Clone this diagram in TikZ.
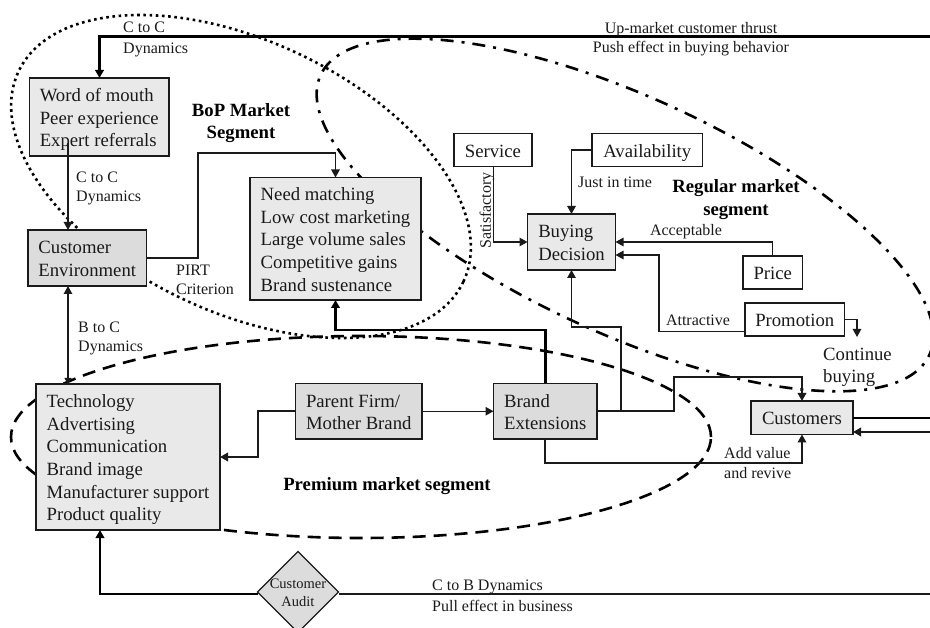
\documentclass[tikz,border=0pt]{standalone}
\usepackage{fontspec}
\setmainfont{Liberation Serif}
\usetikzlibrary{arrows.meta,shapes.geometric,backgrounds}
\definecolor{boxlight}{HTML}{E9E9E9}
\definecolor{boxdark}{HTML}{DCDCDC}
\definecolor{ink}{HTML}{1A1A1A}
\newcommand\bt[1]{\raisebox{-2.7pt}[\height][\depth]{\begin{tabular}{@{}l@{}}#1\end{tabular}}}
\tikzset{
  bx/.style={draw=ink,line width=1.2pt,outer sep=0pt,inner sep=0pt,text=ink,font=\fontsize{18.7}{22.6}\selectfont},
  lightbox/.style={bx,fill=boxlight},
  darkbox/.style={bx,fill=boxdark},
  whitebox/.style={bx,fill=white},
  lab/.style={inner sep=0pt,align=left,anchor=west,yshift=-1.5pt,text=ink,font=\fontsize{16}{19}\selectfont},
  clab/.style={inner sep=0pt,align=center,yshift=-1.5pt,text=ink,font=\fontsize{16}{19}\selectfont},
  seg/.style={inner sep=0pt,align=center,yshift=-1.5pt,text=black,font=\fontsize{18.7}{22.6}\selectfont\bfseries},
  thinln/.style={draw=ink,line width=1.3pt},
  medln/.style={draw=ink,line width=1.8pt},
  thickln/.style={draw=black,line width=2.8pt},
  tip/.style={-{Triangle[length=8pt,width=8.5pt]}},
  region/.style={draw=black,line width=2.6pt},
}
\begin{document}
\begin{tikzpicture}[x=1pt,y=-1pt]
\clip (0,0) rectangle (930,628);

% boxes
\node[lightbox,minimum width=139.5pt,minimum height=78pt] (word) at (99.25,117) {\bt{Word of mouth\\Peer experience\\Expert referrals}};
\node[darkbox,minimum width=118.5pt,minimum height=56pt] (cenv) at (87.25,258) {\bt{Customer\\Environment}};
\node[lightbox,minimum width=171pt,minimum height=122.5pt] (need) at (335.5,238.75) {\bt{Need matching\\Low cost marketing\\Large volume sales\\Competitive gains\\Brand sustenance}};
\node[lightbox,minimum width=184pt,minimum height=146pt] (tech) at (128,457) {\bt{Technology\\Advertising\\Communication\\Brand image\\Manufacturer support\\Product quality}};
\node[darkbox,minimum width=126.5pt,minimum height=55.5pt] (parent) at (358.75,411.25) {\bt{Parent Firm/\\Mother Brand}};
\node[darkbox,minimum width=103.5pt,minimum height=55.5pt] (brand) at (545.25,411.25) {\bt{Brand\\Extensions}};
\node[lightbox,minimum width=102pt,minimum height=33.5pt] (cust) at (802,417.75) {\bt{Customers}};
\node[whitebox,minimum width=78pt,minimum height=33pt] (service) at (493,150) {\bt{Service}};
\node[whitebox,minimum width=110.5pt,minimum height=33pt] (avail) at (647.25,150) {\bt{Availability}};
\node[lightbox,minimum width=88pt,minimum height=56pt] (buy) at (571.5,242) {\bt{Buying\\Decision}};
\node[whitebox,minimum width=59.5pt,minimum height=33pt] (price) at (772.75,272.5) {\bt{Price}};
\node[whitebox,minimum width=99.5pt,minimum height=33pt] (promo) at (794.75,319.5) {\bt{Promotion}};
\node[diamond,draw=ink,line width=1.2pt,fill=boxdark,aspect=1,inner sep=0pt,outer sep=0pt,minimum width=81pt,minimum height=81pt] (audit) at (298,592) {};
\node[inner sep=0pt,align=center,yshift=-1pt,text=ink,font=\fontsize{14.5}{18}\selectfont] (auditlab) at (298,592) {Customer\\Audit};

% free ends and bends
\coordinate (topR) at (930,36.5);
\coordinate (topL) at (99.5,36.5);
\coordinate (x68) at (68,0);
\coordinate (botR) at (930,594);
\coordinate (botL) at (100,594);
\coordinate (cR1) at (930,418);
\coordinate (cR2) at (930,432);
\coordinate (cont) at (857,337);

% regions
\begin{scope}[on background layer]
\draw[region,dash pattern=on 2.6pt off 3.6pt,shift={(241,176.5)},rotate=-25.3] (0,0) ellipse [x radius=246pt,y radius=135.6pt];
\draw[region,dash pattern=on 13pt off 8pt on 3pt off 8pt,shift={(625,215)},rotate=-24.7] (0,0) ellipse [x radius=335pt,y radius=118pt];
\draw[region,dash pattern=on 13pt off 8pt,shift={(361,437)}] (0,0) ellipse [x radius=350pt,y radius=101pt];
\end{scope}

% connectors
\draw[thickln,tip] (topR) -- (topL) -- (topL |- word.north);
\draw[thinln,tip] ([yshift=13pt]word.south -| x68) -- (x68 |- cenv.north);
\draw[thinln,tip] (cenv.east) -- (198,258) -- (198,153) -- (need.north |- 0,153) -- (need.north);
\draw[thinln,{Triangle[length=8pt,width=8.5pt]}-{Triangle[length=6pt,width=7pt]}] (x68 |- cenv.south) -- (x68 |- tech.north);
\draw[medln,tip] (parent.west) -- (258,411.25) -- (258,457) -- (tech.east);
\draw[thinln,tip] (parent.east) -- (brand.west);
\draw[thickln,tip] (brand.north) -- (brand.north |- 0,330) -- (need.south |- 0,330) -- (need.south);
\draw[thinln,tip] (brand.east) -- (621,411.25) -- (621,327) -- (buy.south |- 0,327) -- (buy.south);
\draw[medln,tip] (brand.east) -- (674,411.25) -- (674,377) -- (cust.north |- 0,377) -- (cust.north);
\draw[medln,tip] (brand.south) -- (brand.south |- 0,463) -- (cust.south |- 0,463) -- (cust.south);
\draw[thickln] (cR1) -- (cR1 -| cust.east);
\draw[medln,tip] (cR2) -- (cR2 -| cust.east);
\draw[thickln,tip] (audit.west |- botL) -- (botL) -- (botL |- tech.south);
\draw[medln] (botR) -- (audit.east |- botR);
\draw[thinln,tip] (service.south -| 493.7,0) -- (493.7,242) -- (buy.west);
\draw[thinln,tip] (avail.west) -- (buy.north |- avail.west) -- (buy.north);
\draw[thinln,tip] (price.north) -- (price.north |- buy.east) -- (buy.east);
\draw[thinln,tip] (promo.west |- 0,331.7) -- (659,331.7) -- (659,255) -- (buy.east |- 0,255);
\draw[thinln,tip] (promo.east) -- (cont |- promo.east) -- (cont);

% labels
\node[lab] (l1) at (123,26) {C to C};
\node[lab] (l2) at (123,48) {Dynamics};
\node[lab] (l3) at (76,186.5) {C to C\\Dynamics};
\node[seg] (l4) at (241,121.5) {BoP Market\\Segment};
\node[lab] (l5) at (176,278.5) {PIRT\\Criterion};
\node[lab] (l6) at (78,336.5) {B to C\\Dynamics};
\node[clab] (l7) at (691,37.5) {Up-market customer thrust\\Push effect in buying behavior};
\node[lab] (l8) at (578,181) {Just in time};
\node[clab,rotate=90] (l9) at (487,209) {Satisfactory};
\node[seg] (l10) at (736,198) {Regular market\\segment};
\node[clab] (l11) at (686,230) {Acceptable};
\node[clab] (l12) at (698,319) {Attractive};
\node[lab,font=\fontsize{18.7}{22.6}\selectfont] (l13) at (823,366) {Continue\\buying};
\node[lab] (l14) at (724,452) {Add value};
\node[lab] (l15) at (724,472) {and revive};
\node[seg] (l16) at (387,485) {Premium market segment};
\node[lab] (l17) at (432,585) {C to B Dynamics};
\node[lab] (l18) at (432,604) {Pull effect in business};
\end{tikzpicture}
\end{document}
